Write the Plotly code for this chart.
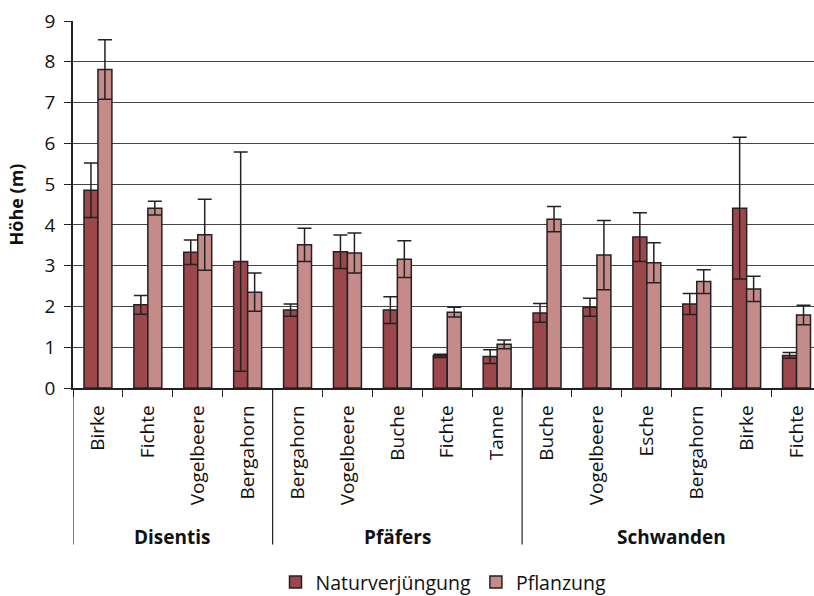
import plotly.graph_objects as go

# Baumhöhen nach Standort und Baumart
sites = ["Disentis"] * 4 + ["Pfäfers"] * 5 + ["Schwanden"] * 6
species = ["Birke", "Fichte", "Vogelbeere", "Bergahorn",
           "Bergahorn", "Vogelbeere", "Buche", "Fichte", "Tanne",
           "Buche", "Vogelbeere", "Esche", "Bergahorn", "Birke", "Fichte"]

natur = [4.85, 2.04, 3.33, 3.10,
         1.91, 3.34, 1.91, 0.79, 0.77,
         1.84, 1.98, 3.70, 2.06, 4.41, 0.80]
natur_err = [0.67, 0.23, 0.30, 2.69,
             0.15, 0.41, 0.33, 0.04, 0.17,
             0.23, 0.22, 0.60, 0.26, 1.74, 0.07]

pflanz = [7.81, 4.41, 3.76, 2.35,
          3.51, 3.31, 3.16, 1.86, 1.07,
          4.14, 3.26, 3.07, 2.61, 2.43, 1.79]
pflanz_err = [0.73, 0.17, 0.87, 0.47,
              0.41, 0.49, 0.45, 0.12, 0.11,
              0.31, 0.85, 0.49, 0.29, 0.31, 0.24]

y_ticks = [0, 1, 2, 3, 4, 5, 6, 7, 8, 9]

FONT = "Open Sans"
INK = "#222222"
C_NATUR = "#9b474c"
C_PFLANZ = "#c58b89"

x = list(range(len(species)))

fig = go.Figure()
for name, vals, errs, col in [("Naturverjüngung", natur, natur_err, C_NATUR),
                              ("Pflanzung", pflanz, pflanz_err, C_PFLANZ)]:
    fig.add_trace(go.Bar(
        x=x, y=vals, name=name,
        marker=dict(color=col, line=dict(color=INK, width=1.5)),
        error_y=dict(type="data", array=errs, visible=True,
                     color=INK, thickness=1.5, width=7),
    ))

# Standort-Gruppen: Trennlinien und Beschriftung
groups = []
for i, s in enumerate(sites):
    if not groups or groups[-1][0] != s:
        groups.append([s, i, i])
    else:
        groups[-1][2] = i

TOP, BOTTOM = 20.7, 596 - 388.3
plot_h = 596 - TOP - BOTTOM
for s, a, b in groups:
    fig.add_shape(type="line", xref="x", yref="paper",
                  x0=a - 0.5, x1=a - 0.5, y0=0, y1=-(545 - 388.3) / plot_h,
                  line=dict(color=INK, width=1.2))
    fig.add_annotation(x=(a + b) / 2, xref="x", y=-(538 - 388.3) / plot_h,
                       yref="paper", text=f"<b>{s}</b>", showarrow=False,
                       yanchor="middle", xanchor="center",
                       font=dict(family=FONT, size=19, color="#111"))

fig.update_layout(
    width=814, height=596,
    margin=dict(l=73, r=0, t=TOP, b=BOTTOM, autoexpand=False),
    paper_bgcolor="white", plot_bgcolor="white",
    barmode="group", bargap=0.44, bargroupgap=0,
    font=dict(family=FONT, color="#111"),
    showlegend=True,
    legend=dict(orientation="h", x=0.5, xanchor="center",
                y=-(583 - 388.3) / plot_h, yanchor="middle",
                font=dict(family=FONT, size=19.5, color="#111"),
                itemwidth=30, traceorder="normal"),
)

fig.update_xaxes(
    range=[-0.5, 14.35], automargin=False,
    tickmode="array", tickvals=x, ticktext=species,
    tickangle=-90, ticks="", ticklabelstandoff=8,
    tickfont=dict(family=FONT, size=19, color="#111"),
    minor=dict(ticks="outside", tickmode="linear", tick0=-0.5, dtick=1,
               ticklen=7, tickwidth=1.2, tickcolor=INK, showgrid=False),
    showline=True, linecolor=INK, linewidth=1.5,
    showgrid=False, zeroline=False,
)

fig.update_yaxes(
    range=[0, 9], automargin=False, tickmode="array", tickvals=y_ticks,
    ticks="outside", ticklen=7, tickwidth=1.2, tickcolor=INK,
    ticklabelstandoff=5,
    tickfont=dict(family=FONT, size=19, color="#111"),
    showline=True, linecolor=INK, linewidth=1.5,
    showgrid=True, gridcolor="#444444", gridwidth=1,
    zeroline=False,
    title=dict(text="<b>Höhe (m)</b>", standoff=16,
               font=dict(family=FONT, size=18, color="#111")),
)

fig.write_html("out.html")
